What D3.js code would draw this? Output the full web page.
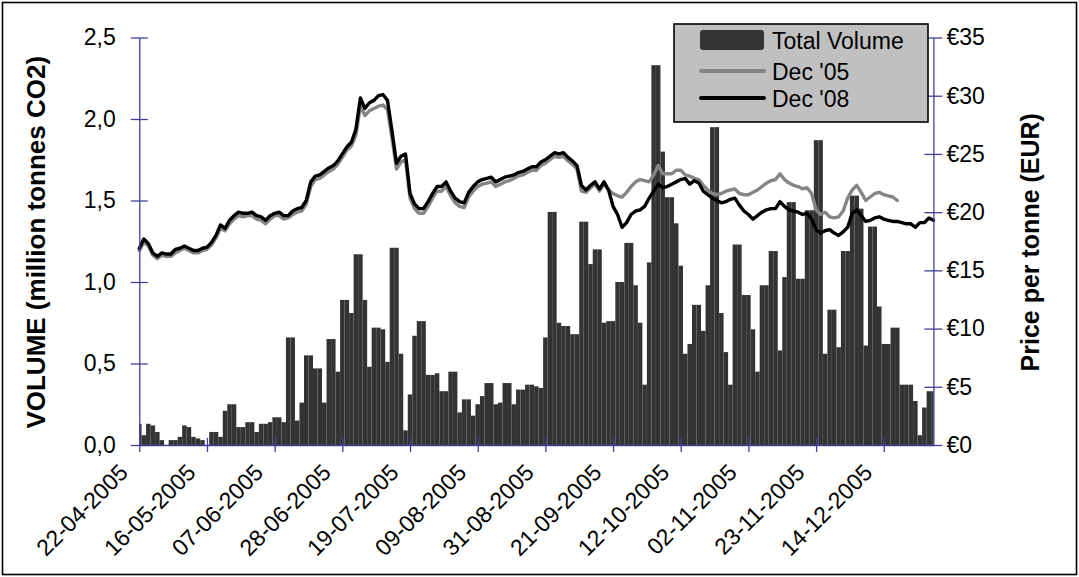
<!DOCTYPE html>
<html>
<head>
<meta charset="utf-8">
<script src="https://cdn.jsdelivr.net/npm/d3@7"></script>
<style>
  html, body { margin: 0; padding: 0; background: #fff; }
  svg { display: block; font-family: "Liberation Sans", Arial, Helvetica, sans-serif; }
</style>
</head>
<body>
<svg id="chart" width="1079" height="577"></svg>
<script>
// Trading calendar: weekdays between the first and last session, minus exchange holidays
const firstDay = "2005-04-22";
const lastDay = "2005-12-30";
const holidays = ["2005-05-02", "2005-05-30", "2005-08-29", "2005-12-26"];
const labelEvery = 15;

const volumeTicks = [0, 0.5, 1.0, 1.5, 2.0, 2.5];
const priceTicks = [0, 5, 10, 15, 20, 25, 30, 35];

// Daily traded volume, million tonnes CO2
const totalVolume = [
  0.13, 0.06, 0.13, 0.12, 0.08, 0.03, 0.00, 0.03, 0.03, 0.05,
  0.12, 0.11, 0.05, 0.04, 0.03, 0.00, 0.08, 0.08, 0.05, 0.21,
  0.25, 0.25, 0.11, 0.11, 0.14, 0.14, 0.08, 0.13, 0.13, 0.14,
  0.17, 0.17, 0.14, 0.66, 0.66, 0.15, 0.26, 0.55, 0.55, 0.47,
  0.47, 0.26, 0.65, 0.65, 0.45, 0.89, 0.89, 0.81, 1.17, 1.17,
  0.89, 0.48, 0.72, 0.72, 0.71, 0.51, 1.21, 1.21, 0.56, 0.09,
  0.31, 0.67, 0.76, 0.76, 0.43, 0.43, 0.44, 0.33, 0.33, 0.45,
  0.45, 0.20, 0.28, 0.28, 0.18, 0.25, 0.30, 0.38, 0.38, 0.25,
  0.26, 0.38, 0.38, 0.25, 0.34, 0.34, 0.37, 0.37, 0.36, 0.35,
  0.66, 1.43, 1.43, 0.75, 0.73, 0.73, 0.68, 0.68, 1.37, 1.37,
  1.11, 1.20, 1.20, 0.75, 0.76, 0.76, 1.00, 1.00, 1.24, 1.24,
  0.98, 0.75, 0.37, 1.12, 2.33, 2.33, 1.80, 1.52, 1.52, 1.36,
  1.10, 0.56, 0.62, 0.86, 0.86, 0.70, 0.98, 1.95, 1.95, 0.81,
  0.57, 0.37, 1.23, 1.23, 0.92, 0.92, 0.71, 0.45, 0.98, 0.98,
  1.19, 1.19, 0.58, 1.03, 1.49, 1.49, 1.02, 1.02, 1.44, 1.44,
  1.87, 1.87, 0.56, 0.83, 0.83, 0.60, 1.19, 1.19, 1.53, 1.53,
  1.45, 0.61, 1.34, 1.34, 0.85, 0.62, 0.62, 0.72, 0.72, 0.37,
  0.37, 0.37, 0.27, 0.06, 0.23, 0.33, 0.33
];

// Settlement price, EUR per tonne — December 2005 contract (expires mid-December)
const dec05 = [
  16.7, 17.4, 17.1, 16.3, 16.0, 16.3, 16.2, 16.2, 16.5, 16.7,
  16.9, 16.7, 16.5, 16.5, 16.7, 16.8, 17.2, 17.8, 18.6, 18.4,
  19.0, 19.4, 19.7, 19.6, 19.7, 19.7, 19.4, 19.3, 19.0, 19.4,
  19.7, 19.7, 19.4, 19.5, 19.8, 20.0, 20.1, 20.7, 22.2, 22.8,
  22.9, 23.2, 23.5, 23.7, 24.1, 24.7, 25.3, 25.7, 26.6, 29.1,
  28.3, 28.7, 28.9, 29.1, 29.2, 28.8, 26.4, 23.7, 24.3, 24.5,
  21.2, 20.3, 19.9, 19.9, 20.5, 21.2, 21.8, 21.8, 22.2, 21.4,
  20.8, 20.5, 20.4, 21.3, 21.8, 22.2, 22.4, 22.5, 22.6, 22.2,
  22.4, 22.6, 22.7, 22.9, 23.1, 23.2, 23.4, 23.6, 23.6, 24.0,
  24.2, 24.5, 24.8, 24.7, 24.8, 24.4, 24.1, 23.7, 21.8, 21.7,
  22.1, 22.4, 21.8, 22.4, 21.9, 21.6, 21.4, 21.3, 21.7, 22.2,
  22.6, 22.8, 22.7, 22.6, 23.2, 24.0, 23.3, 23.3, 23.3, 23.6,
  23.6, 23.2, 23.1, 22.9, 22.8, 22.3, 21.9, 21.6, 21.5, 21.6,
  21.8, 21.9, 22.0, 21.6, 21.5, 21.5, 21.7, 21.9, 22.2, 22.5,
  22.7, 22.8, 23.3, 22.8, 22.5, 22.3, 22.2, 22.0, 22.1, 21.6,
  20.2, 19.8, 20.0, 19.6, 19.5, 19.6, 20.1, 21.2, 21.9, 22.3,
  21.7, 21.0, 21.3, 21.6, 21.7, 21.5, 21.4, 21.3, 21.0
];

// Settlement price, EUR per tonne — December 2008 contract
const dec08 = [
  16.9, 17.7, 17.3, 16.5, 16.2, 16.5, 16.4, 16.4, 16.8, 16.9,
  17.1, 16.9, 16.7, 16.7, 16.9, 17.0, 17.4, 18.0, 18.9, 18.6,
  19.3, 19.7, 20.0, 19.9, 19.9, 20.0, 19.7, 19.6, 19.3, 19.7,
  19.9, 20.0, 19.7, 19.7, 20.1, 20.3, 20.4, 21.0, 22.6, 23.1,
  23.2, 23.5, 23.8, 24.0, 24.4, 25.0, 25.6, 26.0, 27.1, 29.8,
  28.9, 29.4, 29.6, 30.0, 30.1, 29.6, 27.0, 24.2, 24.8, 25.0,
  21.6, 20.7, 20.3, 20.3, 20.9, 21.6, 22.2, 22.2, 22.6, 21.8,
  21.2, 20.9, 20.8, 21.7, 22.2, 22.6, 22.8, 22.9, 23.0, 22.6,
  22.8, 23.0, 23.1, 23.2, 23.4, 23.5, 23.7, 23.9, 23.9, 24.3,
  24.5, 24.8, 25.1, 25.0, 25.1, 24.7, 24.4, 24.0, 22.3, 21.9,
  22.3, 22.6, 22.0, 22.6, 21.9, 20.5, 19.8, 18.7, 19.1, 19.8,
  20.1, 20.2, 20.5, 21.2, 21.8, 22.4, 22.1, 22.2, 22.4, 22.6,
  22.8, 22.9, 22.4, 22.7, 22.5, 21.8, 21.5, 21.2, 21.0, 20.8,
  20.9, 21.1, 21.2, 20.6, 20.1, 19.8, 19.4, 19.7, 20.0, 20.2,
  20.3, 20.3, 20.9, 20.5, 20.2, 20.1, 20.0, 19.8, 19.9, 19.4,
  18.5, 18.2, 18.4, 18.5, 18.2, 18.0, 18.3, 18.7, 19.9, 20.2,
  19.7, 19.2, 19.3, 19.5, 19.6, 19.4, 19.3, 19.2, 19.2, 19.1,
  19.0, 19.0, 18.7, 19.1, 19.1, 19.5, 19.3
];

// ---- calendar -------------------------------------------------------------
const isoDay = d3.utcFormat("%Y-%m-%d");
const labelFmt = d3.utcFormat("%d-%m-%Y");
const dates = d3.utcDay
  .range(new Date(firstDay + "T00:00:00Z"), d3.utcDay.offset(new Date(lastDay + "T00:00:00Z"), 1))
  .filter(d => d.getUTCDay() > 0 && d.getUTCDay() < 6 && !holidays.includes(isoDay(d)));
const keys = dates.map(isoDay);

// ---- layout ---------------------------------------------------------------
const W = 1079, H = 577;
const plot = { left: 139.3, right: 933.4, top: 37.5, bottom: 445 };
const axisColor = "#40409c";
const fontSize = 23;

const svg = d3.select("#chart");

svg.append("rect")
  .attr("x", 2.5).attr("y", 2.5)
  .attr("width", W - 5).attr("height", H - 5)
  .attr("fill", "#fff").attr("stroke", "#000").attr("stroke-width", 1.6);

const x = d3.scalePoint().domain(keys).range([plot.left, plot.right]);
const step = x.step();
const yVol = d3.scaleLinear().domain([0, 2.5]).range([plot.bottom, plot.top]);
const yPrice = d3.scaleLinear().domain([0, 35]).range([plot.bottom, plot.top]);

svg.append("defs").append("clipPath").attr("id", "plotClip")
  .append("rect")
  .attr("x", plot.left).attr("y", 0)
  .attr("width", plot.right - plot.left).attr("height", plot.bottom + 1);

// ---- volume bars ----------------------------------------------------------
svg.append("g").attr("clip-path", "url(#plotClip)")
  .selectAll("rect")
  .data(totalVolume)
  .join("rect")
  .attr("x", (v, i) => x(keys[i]) - step / 2)
  .attr("width", step)
  .attr("y", v => yVol(v))
  .attr("height", v => yVol(0) - yVol(v))
  .attr("fill", "#333333");

// ---- price lines ----------------------------------------------------------
const priceLine = d3.line()
  .x(d => x(d[0]))
  .y(d => yPrice(d[1]));

svg.append("path")
  .datum(dec05.map((v, i) => [keys[i], v]))
  .attr("d", priceLine)
  .attr("fill", "none")
  .attr("stroke", "#858585")
  .attr("stroke-width", 3.4)
  .attr("stroke-linejoin", "round")
  .attr("stroke-linecap", "round");

svg.append("path")
  .datum(dec08.map((v, i) => [keys[i], v]))
  .attr("d", priceLine)
  .attr("fill", "none")
  .attr("stroke", "#000")
  .attr("stroke-width", 3.4)
  .attr("stroke-linejoin", "round")
  .attr("stroke-linecap", "round");

// ---- axes -----------------------------------------------------------------
function styleAxis(g, crossFrom, crossTo, horizontal) {
  g.attr("color", axisColor);
  g.select(".domain").attr("stroke-width", 1.3);
  g.selectAll(".tick line").attr("stroke-width", 1.3);
  if (horizontal) {
    g.selectAll(".tick line").attr("y1", crossFrom).attr("y2", crossTo);
  } else {
    g.selectAll(".tick line").attr("x1", crossFrom).attr("x2", crossTo);
  }
  g.selectAll(".tick text")
    .attr("fill", "#000")
    .attr("font-size", fontSize)
    .attr("font-family", "Liberation Sans, Arial, sans-serif");
}

const volFmt = v => d3.format(".1f")(v).replace(".", ",");

const leftAxis = svg.append("g")
  .attr("transform", `translate(${plot.left},0)`)
  .call(d3.axisLeft(yVol).tickValues(volumeTicks).tickFormat(volFmt)
    .tickSizeInner(8.5).tickSizeOuter(0).tickPadding(15));
styleAxis(leftAxis, 8.5, -8.5, false);

const rightAxis = svg.append("g")
  .attr("transform", `translate(${plot.right},0)`)
  .call(d3.axisRight(yPrice).tickValues(priceTicks).tickFormat(v => "€" + v)
    .tickSizeInner(9).tickSizeOuter(0).tickPadding(4));
styleAxis(rightAxis, -9, 9, false);

const tickKeys = keys.filter((k, i) => i % labelEvery === 0);
const bottomAxis = svg.append("g")
  .attr("transform", `translate(0,${plot.bottom})`)
  .call(d3.axisBottom(x).tickValues(tickKeys).tickFormat("").tickSizeInner(7).tickSizeOuter(0));
styleAxis(bottomAxis, -7, 7, true);

// rotated date labels
svg.append("g")
  .selectAll("text")
  .data(tickKeys)
  .join("text")
  .attr("transform", k => `translate(${x(k) - 10},${plot.bottom + 29}) rotate(-45)`)
  .attr("text-anchor", "end")
  .attr("font-size", 23)
  .attr("fill", "#000")
  .text(k => labelFmt(new Date(k + "T00:00:00Z")));

// ---- axis titles ----------------------------------------------------------
svg.append("text")
  .attr("transform", `translate(45,${(plot.top + plot.bottom) / 2 + 1}) rotate(-90)`)
  .attr("text-anchor", "middle")
  .attr("font-size", 26)
  .attr("font-weight", "bold")
  .text("VOLUME (million tonnes CO2)");

svg.append("text")
  .attr("transform", `translate(1039,${(plot.top + plot.bottom) / 2 + 1}) rotate(-90)`)
  .attr("text-anchor", "middle")
  .attr("font-size", 25)
  .attr("font-weight", "bold")
  .text("Price per tonne (EUR)");

// ---- legend ---------------------------------------------------------------
const legend = svg.append("g");
legend.append("rect")
  .attr("x", 674).attr("y", 24).attr("width", 254).attr("height", 98)
  .attr("fill", "#c0c0c0").attr("stroke", "#000").attr("stroke-width", 1.6);

const legendItems = [
  { name: "Total Volume", kind: "bar", color: "#333333", y: 40 },
  { name: "Dec '05", kind: "line", color: "#858585", y: 71 },
  { name: "Dec '08", kind: "line", color: "#000", y: 98 }
];
legendItems.forEach(item => {
  if (item.kind === "bar") {
    legend.append("rect")
      .attr("x", 700).attr("y", item.y - 10).attr("width", 64).attr("height", 20)
      .attr("rx", 3).attr("fill", item.color);
  } else {
    legend.append("line")
      .attr("x1", 701).attr("x2", 764).attr("y1", item.y).attr("y2", item.y)
      .attr("stroke", item.color).attr("stroke-width", 4).attr("stroke-linecap", "round");
  }
  legend.append("text")
    .attr("x", 772).attr("y", item.y + 8.5)
    .attr("font-size", fontSize)
    .attr("fill", "#000")
    .text(item.name);
});
</script>
</body>
</html>
